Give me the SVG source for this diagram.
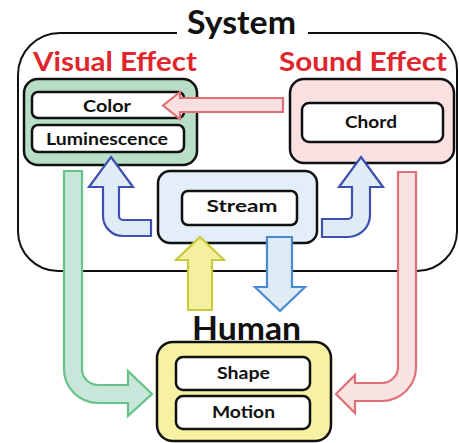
<svg xmlns="http://www.w3.org/2000/svg" width="459" height="443" viewBox="0 0 459 443">
<style>
.box{stroke:#111;stroke-width:2.5}
.inner{fill:#fff;stroke:#111;stroke-width:2.5}
.lbl{font-family:Lato,"Open Sans","Liberation Sans",sans-serif;font-weight:700;fill:#111;text-anchor:middle}
.big{font-size:32px}
.red{font-size:26px;fill:#e0262c}
.sm{font-size:17px}
.arr{stroke-width:2.2;stroke-linejoin:miter}
</style>
<rect width="459" height="443" fill="#fff"/>
<g id="system">
<path d="M308,33 H420 A37,37 0 0 1 457,70 V231 A40,40 0 0 1 417,271 H58 A40,40 0 0 1 18,231 V75 A42,42 0 0 1 60,33 H177" fill="none" stroke="#111" stroke-width="2"/>
<text class="lbl big" x="241.5" y="34" textLength="109" lengthAdjust="spacingAndGlyphs">System</text>
</g>
<g id="visual">
<text class="lbl red" x="115" y="71" textLength="164" lengthAdjust="spacingAndGlyphs">Visual Effect</text>
<rect class="box" x="24" y="79" width="173" height="86" rx="14" fill="#b8dec8"/>
<rect class="inner" x="32" y="92" width="152" height="26" rx="6"/>
<text class="lbl sm" x="107" y="112" textLength="48" lengthAdjust="spacingAndGlyphs">Color</text>
<rect class="inner" x="32" y="125" width="152" height="27" rx="6"/>
<text class="lbl sm" x="107" y="145" textLength="122" lengthAdjust="spacingAndGlyphs">Luminescence</text>
</g>
<g id="sound">
<text class="lbl red" x="363" y="71" textLength="168" lengthAdjust="spacingAndGlyphs">Sound Effect</text>
<rect class="box" x="290" y="79" width="164" height="84" rx="14" fill="#f9e1e1"/>
<rect class="inner" x="302" y="103" width="141" height="39" rx="7"/>
<text class="lbl sm" x="371" y="128" textLength="52" lengthAdjust="spacingAndGlyphs">Chord</text>
</g>
<g id="stream">
<rect class="box" x="158" y="171" width="159" height="72" rx="12" fill="#e3eef8"/>
<rect class="inner" x="182" y="191" width="115" height="34" rx="6"/>
<text class="lbl sm" x="242" y="212" textLength="71" lengthAdjust="spacingAndGlyphs">Stream</text>
</g>
<g id="human">
<text class="lbl big" x="246.5" y="340" textLength="109" lengthAdjust="spacingAndGlyphs">Human</text>
<rect class="box" x="157" y="342" width="174" height="99" rx="16" fill="#f6f1a3"/>
<rect class="inner" x="176" y="357" width="134" height="33" rx="7"/>
<text class="lbl sm" x="243.5" y="379" textLength="53" lengthAdjust="spacingAndGlyphs">Shape</text>
<rect class="inner" x="176" y="396" width="134" height="33" rx="7"/>
<text class="lbl sm" x="243.5" y="418" textLength="63" lengthAdjust="spacingAndGlyphs">Motion</text>
</g>
<g id="connectors">
<path class="arr" d="M283,98 V112 H180 V119 L163,105.5 L180,92 V98 Z" fill="#f9dfdf" stroke="#e07078"/>
<path class="arr" d="M111,157 L133,187 H119 V216 A4,4 0 0 0 123,220 H151 V236 H123 A20,20 0 0 1 103,216 V187 H89 Z" fill="#dfecf6" stroke="#3e4fb2"/>
<path class="arr" d="M361,157 L383,187 H370 V215 A22,22 0 0 1 348,237 H322 V219 H348 A4,4 0 0 0 352,215 V187 H339 Z" fill="#dfecf6" stroke="#3e4fb2"/>
<path class="arr" d="M200,237 L224,260 H212 V310 H188 V260 H176 Z" fill="#f4f0a0" stroke="#c9c93c"/>
<path class="arr" d="M267,237 H292 V287 H305 L280,311 L255,287 H267 Z" fill="#dfecf6" stroke="#4a8ad0"/>
<path class="arr" d="M64,171 H82 V369 A16,16 0 0 0 98,385 H128 V371 L152,394 L128,416 V403 H98 A34,34 0 0 1 64,369 Z" fill="#c8e7da" stroke="#66c288"/>
<path class="arr" d="M416,172 V367 A34,34 0 0 1 382,401 H355 V413 L336,394 L355,375 V383 H382 A16,16 0 0 0 398,367 V172 Z" fill="#f9e2e2" stroke="#e07078"/>
</g>
</svg>
